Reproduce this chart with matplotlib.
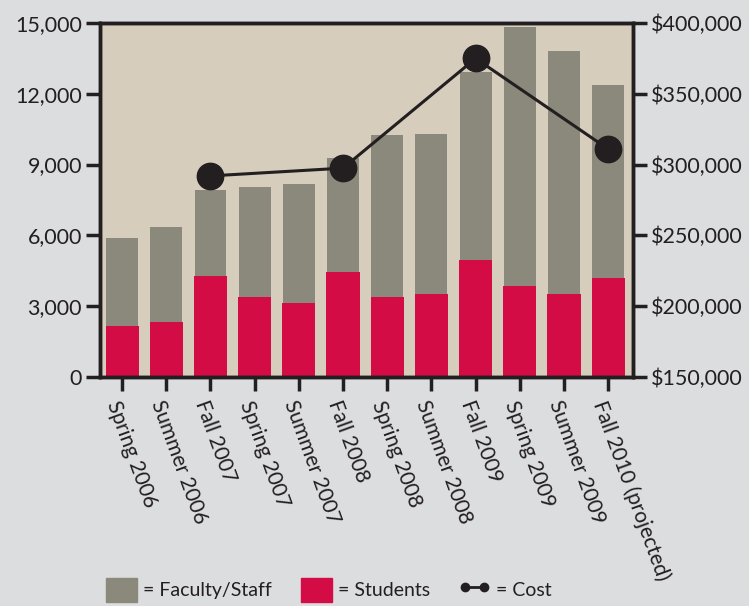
import matplotlib
matplotlib.use("Agg")
import matplotlib.pyplot as plt
from matplotlib.patches import Patch
from matplotlib.lines import Line2D
from matplotlib.ticker import FuncFormatter

terms = ["Spring 2006", "Summer 2006", "Fall 2007", "Spring 2007", "Summer 2007",
         "Fall 2008", "Spring 2008", "Summer 2008", "Fall 2009", "Spring 2009",
         "Summer 2009", "Fall 2010 (projected)"]
students = [2160, 2330, 4280, 3390, 3140, 4450, 3390, 3520, 4960, 3860, 3520, 4200]
totals = [5890, 6360, 7920, 8050, 8180, 9280, 10250, 10300, 12920, 14830, 13810, 12370]
faculty = [t - s for t, s in zip(totals, students)]

cost_terms = ["Fall 2007", "Fall 2008", "Fall 2009", "Fall 2010 (projected)"]
cost = [292000, 297500, 375000, 311000]

ink = "#231F20"
plt.rcParams["font.family"] = ["Lato", "DejaVu Sans"]
plt.rcParams["text.color"] = ink

fig = plt.figure(figsize=(7.49, 6.06), dpi=100, facecolor="#DCDDDF")
ax = fig.add_axes([0.1335, 0.378, 0.7115, 0.584])
ax.set_facecolor("#D6CDBC")

x = list(range(len(terms)))
ax.bar(x, students, width=0.75, color="#D30C45", zorder=2)
ax.bar(x, faculty, bottom=students, width=0.72, color="#8B897C", zorder=2)
ax.set_ylim(0, 15000)
ax.set_xlim(-0.5, 11.56)
ax.set_yticks(range(0, 15001, 3000))
ax.yaxis.set_major_formatter(FuncFormatter(lambda v, p: f"{int(v):,}"))
ax.set_xticks(x)
ax.set_xticklabels(terms, rotation=-70, ha="left", va="top", rotation_mode="anchor")

ax2 = ax.twinx()
cx = [terms.index(t) for t in cost_terms]
ax2.plot(cx, cost, color=ink, lw=2.2, marker="o", ms=19, zorder=3)
ax2.set_ylim(150000, 400000)
ax2.set_yticks(range(150000, 400001, 50000))
ax2.yaxis.set_major_formatter(FuncFormatter(lambda v, p: f"${int(v):,}"))

for a in (ax, ax2):
    for s in a.spines.values():
        s.set_linewidth(2.5)
        s.set_color(ink)
    a.tick_params(length=10, width=2.5, color=ink, labelsize=15.5, labelcolor=ink, pad=3)
ax.tick_params(axis="x", labelsize=15, pad=5)

handles = [Patch(color="#8B897C"), Patch(color="#D30C45"),
           Line2D([0], [0], color=ink, lw=2, marker="o", ms=6)]
labels = ["= Faculty/Staff", "= Students", "= Cost"]
fig.legend(handles, labels, loc="lower left", bbox_to_anchor=(0.118, -0.022), ncol=3,
           frameon=False, fontsize=14, numpoints=2, handlelength=1.6,
           handleheight=1.5, handletextpad=0.3, columnspacing=1.5)

fig.savefig("out.png", dpi=100, facecolor=fig.get_facecolor())
